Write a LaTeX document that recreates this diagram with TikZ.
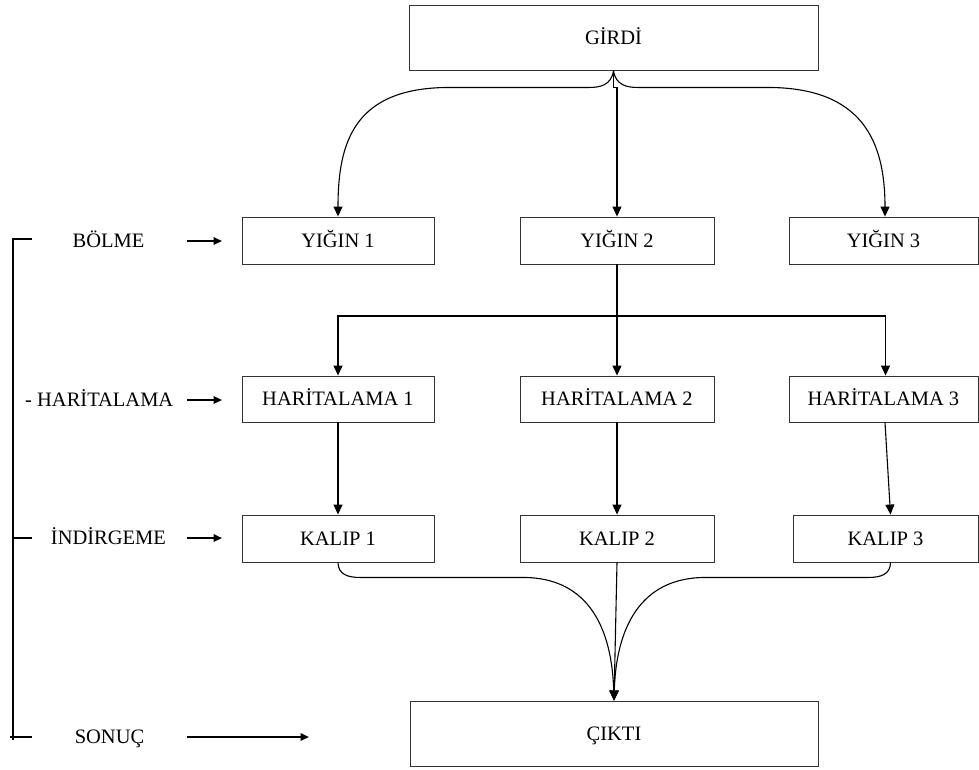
\documentclass[tikz,border=0pt]{standalone}
\usepackage{fontspec}
\setmainfont{Liberation Serif}
\usetikzlibrary{arrows.meta}

\begin{document}
\begin{tikzpicture}[
  x=1pt, y=-1pt,
  every node/.style={font=\fontsize{20.5}{24}\selectfont, text height=13.6pt, text depth=0pt, inner sep=0pt},
  box/.style={draw=black!80, line width=0.9pt, minimum height=47pt},
  arr/.style={draw=black, line width=1.1pt, -{Triangle[length=10pt,width=9pt]}},
  larr/.style={draw=black, line width=2pt, -{Triangle[length=8.5pt,width=7.5pt]}},
  bracket/.style={draw=black, line width=2pt},
]
\useasboundingbox (0,0) rectangle (979,769);

% main blocks
\node[box, minimum width=409pt, minimum height=65pt] (girdi) at (613.5,37.5) {GİRDİ};

\node[box, minimum width=192pt] (y1) at (338,240.5) {YIĞIN 1};
\node[box, minimum width=194pt] (y2) at (617,240.5) {YIĞIN 2};
\node[box, minimum width=189pt] (y3) at (883.5,240.5) {YIĞIN 3};

\node[box, minimum width=192pt, minimum height=46pt] (h1) at (338,399) {HARİTALAMA 1};
\node[box, minimum width=194pt, minimum height=46pt] (h2) at (617,399) {HARİTALAMA 2};
\node[box, minimum width=189pt, minimum height=46pt] (h3) at (883.5,399) {HARİTALAMA 3};

\node[box, minimum width=192pt] (k1) at (338,538.5) {KALIP 1};
\node[box, minimum width=194pt] (k2) at (617,538.5) {KALIP 2};
\node[box, minimum width=185pt] (k3) at (885.5,538.5) {KALIP 3};

\node[box, minimum width=408pt, minimum height=65pt] (cikti) at (614,733.5) {ÇIKTI};

% input splits into the three chunks
\draw[arr] (girdi.south) .. controls +(-2,15) and +(10,0) .. ++(-24,17)
  -- ++(-140,0) .. controls +(-95,0) and +(0,-75) .. (y1.north);
\draw[arr] (girdi.south) .. controls +(2,15) and +(-10,0) .. ++(24,17)
  -- ++(130,0) .. controls +(95,0) and +(0,-75) .. ([xshift=1.5pt]y3.north);
\draw[arr] (girdi.south) -- ++(0,17) -| (y2.north);

% chunk 2 fans out to the mappers
\draw[line width=1.8pt] (y2.south) -- ++(0,51.5) coordinate (split);
\draw[arr] (split) -| (h1.north);
\draw[arr] (split) -| ([xshift=2pt]h3.north);
\draw[arr] (split) -- (h2.north);

% mappers to reducers
\draw[arr] (h1.south) -- (k1.north);
\draw[arr] (h2.south) -- (k2.north);
\draw[arr] ([xshift=1.5pt]h3.south) -- ([xshift=5pt]k3.north);

% reducers merge into the output
\draw[arr] (k1.south) .. controls +(0,12) and +(-12,0) .. ++(22,15)
  -- ++(163,0) .. controls +(67,0) and +(-2,-70) .. (cikti.north);
\draw[arr] ([xshift=5pt]k3.south) .. controls +(0,12) and +(12,0) .. ++(-22,15)
  -- ++(-163,0) .. controls +(-67,0) and +(2,-70) .. (cikti.north);
\draw[arr] (k2.south) -- (cikti.north);

% phase bracket on the left
\coordinate (bt) at (13,239);
\coordinate (bb) at (13,740);
\coordinate (t1) at (32,239);
\coordinate (t3) at (13,538);
\coordinate (t3e) at (32,538);
\coordinate (t4) at (10,737);
\coordinate (t4e) at (32,737);
\draw[bracket] (t1) -- (bt) -- (bb);
\draw[bracket] (t3) -- (t3e);
\draw[bracket] (t4) -- (t4e);

% phase labels
\node (lb) at (108.5,241) {BÖLME};
\node[anchor=west] (lh) at (25,400) {- HARİTALAMA};
\node (li) at (108.5,538) {İNDİRGEME};
\node (ls) at (109.5,737) {SONUÇ};

\coordinate (a1s) at (187,241);  \coordinate (a1e) at (222,241);
\coordinate (a2s) at (187,400);  \coordinate (a2e) at (222,400);
\coordinate (a3s) at (187,538);  \coordinate (a3e) at (222,538);
\coordinate (a4s) at (187,737);  \coordinate (a4e) at (309,737);
\draw[larr] (a1s) -- (a1e);
\draw[larr] (a2s) -- (a2e);
\draw[larr] (a3s) -- (a3e);
\draw[larr] (a4s) -- (a4e);
\end{tikzpicture}
\end{document}
